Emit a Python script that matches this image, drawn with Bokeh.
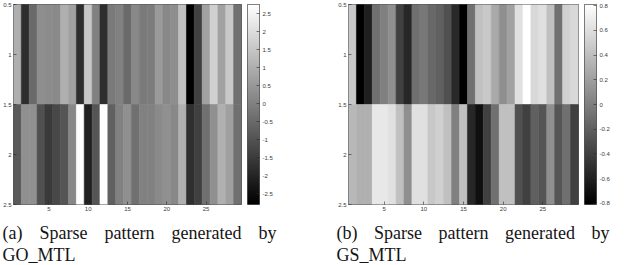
import numpy as np
from bokeh.plotting import figure
from bokeh.models import (ColumnDataSource, LinearColorMapper, FixedTicker, Range1d)
from bokeh.palettes import Greys256
from bokeh.layouts import column, row
from bokeh.embed import file_html
from bokeh.resources import INLINE
from bokeh.core.properties import value
from bokeh.transform import transform

# ---------------- data ----------------
columns = list(range(1, 30))
rows = [1, 2]

# (a) GO_MTL weights, row 1 and row 2
go_row1 = [1.0, -1.8, -0.5, 0.3, 0.25, 0.2, 1.0, 0.7, -1.8, 1.55,
           0.0, -1.8, -0.14, 0.0, -0.5, 0.16, -0.15, -0.1, 0.55, 0.15,
           0.3, 1.38, -2.8, -1.4, 0.7, 1.73, 0.7, 1.55, -0.36]
go_row2 = [-0.84, 0.33, 0.33, -1.06, -1.54, -1.23, -0.95, 0.16, 2.7, -2.1,
           -0.95, 2.7, -0.71, 0.0, 0.33, -0.36, 0.0, 0.0, 0.2, 0.33,
           0.16, 1.03, -1.76, -1.4, -0.36, 0.33, 1.03, 0.68, -0.36]

# (b) GS_MTL weights, row 1 and row 2
gs_row1 = [0.46, -0.81, -0.61, -0.10, 0.0, 0.10, -0.40, -0.56, -0.10, -0.05,
           -0.15, -0.20, -0.30, -0.55, -0.80, -0.10, 0.41, 0.46, 0.26, 0.10,
           0.21, 0.61, 0.80, 0.56, 0.61, 0.41, -0.10, 0.51, 0.56]
gs_row2 = [0.36, 0.31, 0.31, 0.66, 0.66, 0.61, 0.41, 0.10, 0.61, 0.61,
           0.46, 0.51, 0.41, 0.0, 0.41, -0.56, -0.71, -0.40, -0.10, 0.41,
           0.41, -0.30, -0.40, -0.20, -0.27, 0.10, -0.27, -0.10, -0.40]

go_limits = [-2.8, 2.75]
gs_limits = [-0.81, 0.81]

x_ticks = [5, 10, 15, 20, 25]
y_ticks = [0.5, 1, 1.5, 2, 2.5]
go_cbar_ticks = [-2.5, -2, -1.5, -1, -0.5, 0, 0.5, 1, 1.5, 2, 2.5]
gs_cbar_ticks = [-0.8, -0.6, -0.4, -0.2, 0, 0.2, 0.4, 0.6, 0.8]

caption_a = ["(a)", "Sparse", "pattern", "generated", "by"]
caption_a2 = "GO_MTL"
caption_b = ["(b)", "Sparse", "pattern", "generated", "by"]
caption_b2 = "GS_MTL"

# ---------------- styling ----------------
TICK_SIZE = "6px"
TICK_COLOR = "#3a3a3a"
FRAME_COLOR = "#2a2a2a"
FIG_H = 218
TOP = 4
BOTTOM = 14


def fmt(t):
    return "%g" % t


def style_axis(ax, ticks):
    ax.ticker = FixedTicker(ticks=ticks)
    ax.major_label_overrides = {float(t): fmt(t) for t in ticks}
    ax.major_label_text_font = "Liberation Sans"
    ax.major_label_text_font_size = TICK_SIZE
    ax.major_label_text_color = TICK_COLOR
    ax.major_tick_in = 3
    ax.major_tick_out = 0
    ax.minor_tick_line_color = None
    ax.axis_line_color = None
    ax.major_tick_line_color = FRAME_COLOR
    ax.major_tick_line_width = 0.6
    ax.major_label_standoff = 2


def heat(r1, r2, mapper, fig_w, border_left, border_right):
    xs = columns + columns
    ys = [rows[0]] * len(columns) + [rows[1]] * len(columns)
    vs = r1 + r2
    src = ColumnDataSource(dict(x=xs, y=ys, v=vs))
    p = figure(width=fig_w, height=FIG_H,
               x_range=Range1d(0.5, 29.5), y_range=Range1d(2.5, 0.5),
               output_backend="svg", toolbar_location=None,
               min_border_left=border_left, min_border_right=border_right,
               min_border_top=TOP, min_border_bottom=BOTTOM)
    p.rect(x="x", y="y", width=1, height=1, source=src,
           fill_color=transform("v", mapper),
           line_color=transform("v", mapper), line_width=0.6)
    p.grid.visible = False
    p.outline_line_color = FRAME_COLOR
    p.outline_line_width = 0.8
    p.background_fill_color = "white"
    p.border_fill_color = "white"
    style_axis(p.xaxis[0], x_ticks)
    style_axis(p.yaxis[0], y_ticks)
    return p


def cbar(mapper, lims, cticks, fig_w, bar_w):
    p = figure(width=fig_w, height=FIG_H,
               x_range=Range1d(0, 1), y_range=Range1d(lims[0], lims[1]),
               x_axis_type=None, y_axis_location="right",
               output_backend="svg", toolbar_location=None,
               min_border_left=0, min_border_right=fig_w - bar_w,
               min_border_top=TOP, min_border_bottom=BOTTOM)
    # colour scale of the mapper, low -> high
    grad = np.linspace(lims[0], lims[1], 256).reshape(256, 1)
    p.image(image=[grad], x=0, y=lims[0], dw=1, dh=lims[1] - lims[0],
            color_mapper=mapper)
    p.grid.visible = False
    p.outline_line_color = FRAME_COLOR
    p.outline_line_width = 0.8
    p.border_fill_color = "white"
    style_axis(p.yaxis[0], cticks)
    p.yaxis[0].major_label_standoff = 3
    return p


go_mapper = LinearColorMapper(palette=Greys256, low=go_limits[0], high=go_limits[1])
gs_mapper = LinearColorMapper(palette=Greys256, low=gs_limits[0], high=gs_limits[1])

ha = heat(go_row1, go_row2, go_mapper, 247, 12, 6)
ca = cbar(go_mapper, go_limits, go_cbar_ticks, 73, 12)
hb = heat(gs_row1, gs_row2, gs_mapper, 264, 28, 6)
cb = cbar(gs_mapper, gs_limits, gs_cbar_ticks, 53, 12)

# ---------------- captions ----------------
CAP_W = 637
CAP_H = 45
cap = figure(width=CAP_W, height=CAP_H, x_range=Range1d(0, CAP_W),
             y_range=Range1d(CAP_H, 0),
             output_backend="svg", toolbar_location=None,
             x_axis_type=None, y_axis_type=None, min_border=0)
cap.grid.visible = False
cap.outline_line_color = None

word_x_a = [2, 39, 104, 171, 258]
word_x_b = [336, 373.5, 438, 504.5, 591]
line1_y = 14
line2_y = 36

cap_src = ColumnDataSource(dict(
    x=word_x_a + [2] + word_x_b + [336],
    y=[line1_y] * 5 + [line2_y] + [line1_y] * 5 + [line2_y],
    t=caption_a + [caption_a2] + caption_b + [caption_b2],
))
cap.text(x="x", y="y", text="t", source=cap_src,
         text_font=value("Liberation Serif"), text_font_size="18px",
         text_baseline="alphabetic", text_align="left", text_color="#141414")

layout = column(row(ha, ca, hb, cb, spacing=0), cap, spacing=0)

open("out.html", "w").write(file_html(layout, INLINE))
